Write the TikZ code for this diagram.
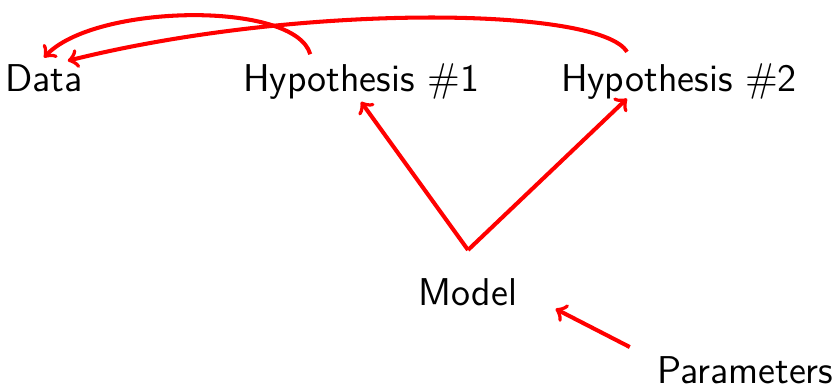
\documentclass[tikz,border=0pt]{standalone}
\begin{document}
\begin{tikzpicture}[every node/.style={font=\fontsize{13.9}{17}\selectfont\sffamily,anchor=base},link/.style={->,red,line width=1.45pt}]
  \useasboundingbox (0,0) rectangle (10.546,4.876);
  \node (data) at (0.554,3.717) {Data};
  \node (hypone) at (4.549,3.717) {Hypothesis {$\#$}1};
  \node (hyptwo) at (8.555,3.717) {Hypothesis {$\#$}2};
  \node (model) at (5.897,1.033) {Model};
  \node (params) at (9.39,0.05) {Parameters};
  \draw[link] ([yshift=0.23cm]model.north) -- ([yshift=0.1cm]hypone.south);
  \draw[link] ([yshift=0.23cm]model.north) -- ([xshift=-0.655cm,yshift=0.14cm]hyptwo.south);
  \draw[link] ([xshift=-0.22cm,yshift=-0.01cm]params.north west) -- ([xshift=0.36cm,yshift=0.08cm]model.south east);
  \draw[link] ([xshift=-0.64cm,yshift=0.0cm]hypone.north) .. controls +(-0.19,0.68) and +(0.63,0.68) .. ([yshift=-0.03cm]data.north);
  \draw[link] ([xshift=-0.655cm,yshift=0.03cm]hyptwo.north) .. controls +(-0.34,0.57) and +(2.92,0.73) .. ([xshift=0.3cm,yshift=-0.07cm]data.north);
\end{tikzpicture}
\end{document}
